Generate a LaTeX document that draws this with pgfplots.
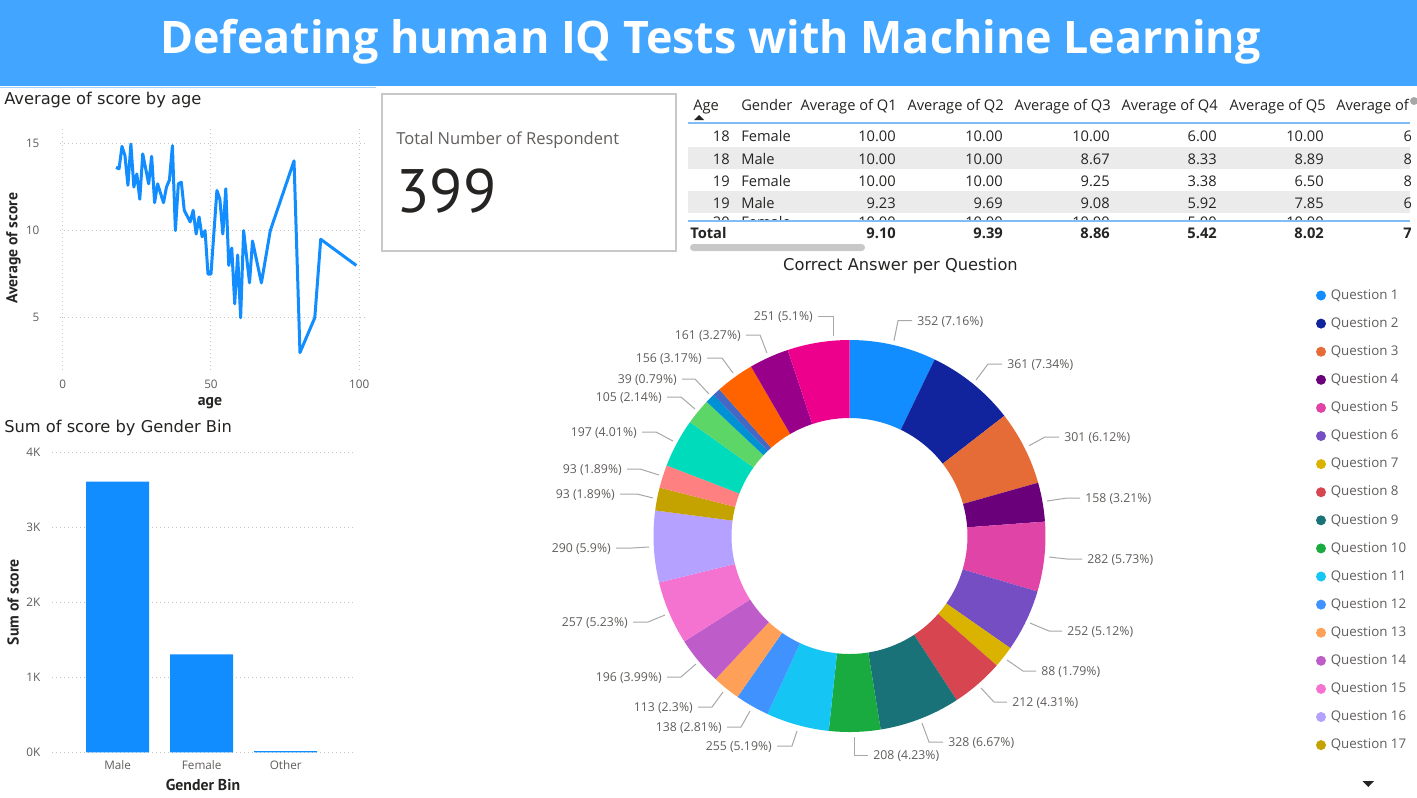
\documentclass[border=0pt]{standalone}
\usepackage{fontspec}
\setmainfont{Open Sans}
\newfontfamily\dinf{DejaVu Sans}
\newfontfamily\ptf{PT Sans}
\usepackage{pgfplots}
\usepackage{pgfplotstable}
\pgfplotsset{compat=1.18}

\definecolor{banner}{HTML}{42A5FF}
\definecolor{pbblue}{HTML}{118DFF}
\definecolor{txtdark}{HTML}{252423}
\definecolor{txtgray}{HTML}{605E5C}
\definecolor{gridgray}{HTML}{C8C6C4}
\definecolor{leader}{HTML}{A8A8A8}
\definecolor{rowgray}{HTML}{EBEBEB}
\definecolor{tblue}{HTML}{80BDF5}
\definecolor{cardgray}{HTML}{C8C8C8}
\definecolor{q1}{HTML}{118DFF}
\definecolor{q2}{HTML}{12239E}
\definecolor{q3}{HTML}{E66C37}
\definecolor{q4}{HTML}{6B007B}
\definecolor{q5}{HTML}{E044A7}
\definecolor{q6}{HTML}{744EC2}
\definecolor{q7}{HTML}{D9B300}
\definecolor{q8}{HTML}{D64550}
\definecolor{q9}{HTML}{197278}
\definecolor{q10}{HTML}{1AAB40}
\definecolor{q11}{HTML}{15C6F4}
\definecolor{q12}{HTML}{4092FF}
\definecolor{q13}{HTML}{FFA058}
\definecolor{q14}{HTML}{BE5DC9}
\definecolor{q15}{HTML}{F472D0}
\definecolor{q16}{HTML}{B5A1FF}
\definecolor{q17}{HTML}{C4A200}
\definecolor{q18}{HTML}{FF8080}
\definecolor{q19}{HTML}{00DBBC}
\definecolor{q20}{HTML}{5BD667}
\definecolor{q21}{HTML}{0091D5}
\definecolor{q22}{HTML}{4668C5}
\definecolor{q23}{HTML}{FF6300}
\definecolor{q24}{HTML}{99008A}
\definecolor{q25}{HTML}{EC008C}

% Average of score by age
\pgfplotstableread{
age score
18 13.63
19 13.54
20 14.83
21 14.30
22 12.60
23 14.96
24 12.50
25 13.25
26 11.80
27 14.40
29 12.68
30 14.26
31 11.60
32 12.68
34 11.60
35 12.50
36 12.90
37 14.87
38 10.00
39 12.68
40 12.78
41 11.16
43 10.50
44 11.16
45 9.80
46 10.78
47 9.64
48 10.00
49 7.50
50 7.50
52 12.30
53 11.80
54 9.80
55 12.40
56 8.00
57 9.00
58 5.80
59 8.60
60 5.00
61 10.00
63 7.00
64 9.40
67 7.00
70 10.00
78 14.00
80 3.00
85 5.00
87 9.50
99 8.00
}\agedata

% Correct answers per question (donut), with label leader positions in px
\pgfplotstableread{
q val pct lab sx sy ex ey tx
1 352 7.16 1 894 340.7 898 320.7 912
2 361 7.34 1 976 380 988 364 1002
3 301 6.12 1 1029 445.7 1045 437 1059
4 158 3.21 1 1047 501 1067 498 1080
5 282 5.73 1 1049 557 1067 559 1082
6 252 5.12 1 1030 623 1049 631 1062
7 88 1.79 1 1007 660 1023 671 1036
8 212 4.31 1 981 688 994 702 1007
9 328 6.67 1 922 723 929 742 943
10 208 4.23 1 854 737 854 755 868
11 255 5.19 1 797 731 792 746 777
12 138 2.81 1 750 711 741 727 727
13 113 2.3 1 723 692 712 707 698
14 196 3.99 1 696 664 681 677 667
15 257 5.23 1 665 615 648 622 633
16 290 5.9 1 649 547 632 548 616
17 93 1.89 1 653 498 637 494 620
18 93 1.89 1 659 475 640 469 627
19 197 4.01 1 673 441 656 432 642
20 105 2.14 1 695 409 681 397 667
21 39 0.79 1 709 394 695 379 682
22 32 0.65 0 0 0 0 0 0
23 156 3.17 1 733 373 722 358 707
24 161 3.27 1 767 353 760 335 746
25 251 5.1 1 833 336 833 316 818
}\donut

\begin{document}
\begin{tikzpicture}[x=0.75pt,y=-0.75pt]
\useasboundingbox (0,0) rectangle (1417,797);
\fill[white] (0,0) rectangle (1417,797);

% ---------- banner ----------
\fill[banner] (0,0) rectangle (1417,86);
\draw[tblue!70!white, line width=1.1pt] (0,87.5) -- (376,87.5);
\node[anchor=base, inner sep=0, text=white, font=\bfseries\fontsize{33.6}{40}\selectfont] at (710.5,53.3) {Defeating human IQ Tests with Machine Learning};

% ---------- titles ----------
\node[anchor=base west, inner sep=0, text=txtdark, font=\dinf\fontsize{12.2}{14}\selectfont] at (4,104.7) {Average of score by age};
\node[anchor=base west, inner sep=0, text=txtdark, font=\dinf\fontsize{12.2}{14}\selectfont] at (4,432.5) {Sum of score by Gender Bin};
\node[anchor=base, inner sep=0, text=txtdark, font=\dinf\fontsize{12.2}{14}\selectfont] at (900.5,270.5) {Correct Answer per Question};

% ---------- line chart ----------
\begin{axis}[
  at={(44.775pt,-277.5pt)}, anchor=south west,
  scale only axis, width=230.25pt, height=183pt,
  xmin=-1, xmax=102.5, ymin=2, ymax=16,
  xtick={0,50,100}, ytick={5,10,15},
  axis line style={draw=none}, tick style={draw=none},
  grid=major,
  major grid style={gridgray, line width=0.75pt, dash pattern=on 0.75pt off 2.25pt},
  /pgf/number format/assume math mode=true,
  tick label style={font=\fontsize{8.8}{10}\selectfont, text=txtgray, inner sep=0pt},
  yticklabel style={anchor=east, xshift=-15pt},
  xticklabel style={anchor=base, yshift=-13.5pt},
  xlabel={age}, ylabel={Average of score},
  xlabel style={at={(axis description cs:0.4896,-0.1352)}, anchor=center, inner sep=0pt,
    font=\ptf\bfseries\fontsize{11.8}{13}\selectfont, text=txtdark},
  ylabel style={at={(axis description cs:-0.1505,0.5)}, anchor=center, inner sep=0pt,
    font=\ptf\bfseries\fontsize{11.8}{13}\selectfont, text=txtdark},
  clip=false,
]
\addplot[pbblue, line width=2.25pt, line join=round] table[x=age, y=score] {\agedata};
\end{axis}

% ---------- bar chart ----------
\begin{axis}[
  at={(39pt,-564.225pt)}, anchor=south west,
  scale only axis, width=226.5pt, height=225pt,
  xmin=-0.782, xmax=2.813, ymin=0, ymax=4000,
  ybar, bar width=47.25pt,
  xtick={0,1,2}, xticklabels={Male,Female,Other},
  ytick={0,1000,2000,3000,4000}, yticklabels={0K,1K,2K,3K,4K},
  axis line style={draw=none}, tick style={draw=none},
  ymajorgrids,
  major grid style={gridgray, line width=0.75pt, dash pattern=on 0.75pt off 2.25pt},
  /pgf/number format/assume math mode=true,
  tick label style={font=\fontsize{8.8}{10}\selectfont, text=txtgray, inner sep=0pt},
  yticklabel style={anchor=east, xshift=-8.5pt},
  xticklabel style={anchor=base, yshift=-8.8pt},
  xlabel={Gender Bin}, ylabel={Sum of score},
  xlabel style={at={(axis description cs:0.5,-0.1075)}, anchor=center, inner sep=0pt,
    font=\ptf\bfseries\fontsize{11.8}{13}\selectfont, text=txtdark},
  ylabel style={at={(axis description cs:-0.129,0.5)}, anchor=center, inner sep=0pt,
    font=\ptf\bfseries\fontsize{11.8}{13}\selectfont, text=txtdark},
  clip=false,
]
\addplot[fill=pbblue, draw=none] coordinates {(0,3610) (1,1307) (2,17)};
\end{axis}

% ---------- card ----------
\draw[cardgray, line width=1.125pt] (382,94) rectangle (676,251);
\node[anchor=base west, inner sep=0, text=txtgray, font=\fontsize{12.4}{14}\selectfont] at (396,144.3) {Total Number of Respondent};
\node[anchor=base west, inner sep=0, text=txtdark, font=\ptf\fontsize{46}{50}\selectfont] at (396,212) {399};

% ---------- table ----------
\fill[rowgray] (688,147) rectangle (1410,169);
\fill[rowgray] (688,191) rectangle (1410,213);
\begin{scope}
\clip (686,90) rectangle (1410,241);
\begin{scope}[every node/.style={inner sep=0pt, text=txtdark, font=\fontsize{11}{13}\selectfont}]
\node[anchor=base west] at (693,110) {Age};
\node[anchor=base west] at (741,110) {Gender};
\node[anchor=base east] at (897,110) {Average of Q1};
\node[anchor=base east] at (1004,110) {Average of Q2};
\node[anchor=base east] at (1111,110) {Average of Q3};
\node[anchor=base east] at (1218,110) {Average of Q4};
\node[anchor=base east] at (1326,110) {Average of Q5};
\node[anchor=base west] at (1336,110) {Average of Q6};
\foreach \yy/\ag/\ge/\va/\vb/\vc/\vd/\ve/\vf in {
  141.6/18/Female/10.00/10.00/10.00/6.00/10.00/6.50,
  164/18/Male/10.00/10.00/8.67/8.33/8.89/8.11,
  186/19/Female/10.00/10.00/9.25/3.38/6.50/8.75,
  208.3/19/Male/9.23/9.69/9.08/5.92/7.85/6.92}{
  \node[anchor=base east] at (730,\yy) {\ag};
  \node[anchor=base west] at (741,\yy) {\ge};
  \node[anchor=base east] at (896,\yy) {\va};
  \node[anchor=base east] at (1003,\yy) {\vb};
  \node[anchor=base east] at (1110,\yy) {\vc};
  \node[anchor=base east] at (1217,\yy) {\vd};
  \node[anchor=base east] at (1324,\yy) {\ve};
  \node[anchor=base east] at (1433,\yy) {\vf};
}
\begin{scope}
\clip (686,213) rectangle (1410,220.5);
\node[anchor=base east] at (730,227.5) {20};
\node[anchor=base west] at (741,227.5) {Female};
\node[anchor=base east] at (896,227.5) {10.00};
\node[anchor=base east] at (1003,227.5) {10.00};
\node[anchor=base east] at (1110,227.5) {10.00};
\node[anchor=base east] at (1217,227.5) {5.00};
\node[anchor=base east] at (1324,227.5) {10.00};
\end{scope}
\node[anchor=base west, font=\bfseries\fontsize{11}{13}\selectfont] at (690,238.3) {Total};
\node[anchor=base east, font=\bfseries\fontsize{11}{13}\selectfont] at (896,238.3) {9.10};
\node[anchor=base east, font=\bfseries\fontsize{11}{13}\selectfont] at (1003,238.3) {9.39};
\node[anchor=base east, font=\bfseries\fontsize{11}{13}\selectfont] at (1110,238.3) {8.86};
\node[anchor=base east, font=\bfseries\fontsize{11}{13}\selectfont] at (1217,238.3) {5.42};
\node[anchor=base east, font=\bfseries\fontsize{11}{13}\selectfont] at (1324,238.3) {8.02};
\node[anchor=base east, font=\bfseries\fontsize{11}{13}\selectfont] at (1433,238.3) {7.65};
\end{scope}
\end{scope}
\draw[tblue, line width=1.1pt] (688,123) -- (1410,123);
\draw[tblue, line width=1.1pt] (688,221) -- (1410,221);
\fill[txtdark] (694,120) -- (704,120) -- (699,115) -- cycle;
\fill[cardgray, rounded corners=2.6pt] (690,244) rectangle (865,251);
\fill[gray!70] (1414,101) circle[radius=3pt];

% ---------- donut ----------
\begin{axis}[
  at={(637.125pt,-402pt)}, anchor=center,
  hide axis, x=0.75pt, y=0.75pt, disabledatascaling,
  xmin=-200, xmax=200, ymin=-200, ymax=200, clip=false,
]
\pgfplotsextra{%
  \xdef\cumsum{0}%
  \foreach \i in {0,...,24}{%
    \pgfplotstablegetelem{\i}{val}\of{\donut}\let\v\pgfplotsretval
    \pgfmathsetmacro\aa{90-360*(\cumsum/4918)}%
    \pgfmathsetmacro\ab{90-360*((\cumsum+\v)/4918)}%
    \pgfmathtruncatemacro\n{\i+1}%
    \fill[q\n] (axis cs:{196*cos(\aa)},{196*sin(\aa)}) arc[start angle=\aa, end angle=\ab, radius=147pt]
       -- (axis cs:{118*cos(\ab)},{118*sin(\ab)}) arc[start angle=\ab, end angle=\aa, radius=88.5pt] -- cycle;
    \pgfmathsetmacro\newcum{\cumsum+\v}\xdef\cumsum{\newcum}%
    \pgfplotstablegetelem{\i}{lab}\of{\donut}\let\lab\pgfplotsretval
    \ifnum\lab=1
      \pgfplotstablegetelem{\i}{pct}\of{\donut}\let\p\pgfplotsretval
      \pgfplotstablegetelem{\i}{sx}\of{\donut}\let\sx\pgfplotsretval
      \pgfplotstablegetelem{\i}{sy}\of{\donut}\let\sy\pgfplotsretval
      \pgfplotstablegetelem{\i}{ex}\of{\donut}\let\ex\pgfplotsretval
      \pgfplotstablegetelem{\i}{ey}\of{\donut}\let\ey\pgfplotsretval
      \pgfplotstablegetelem{\i}{tx}\of{\donut}\let\tx\pgfplotsretval
      \draw[leader, line width=0.75pt] (axis cs:{\sx-849.5},{536-\sy}) -- (axis cs:{\ex-849.5},{536-\ey}) -- (axis cs:{\tx-849.5},{536-\ey});
      \pgfmathtruncatemacro\side{\tx>\ex}%
      \ifnum\side=1
        \node[anchor=west, inner sep=0pt, text=txtgray, font=\fontsize{9.2}{11}\selectfont] at (axis cs:{\tx-849.5+5},{536-\ey-1}) {\v\ (\p\%)};
      \else
        \node[anchor=east, inner sep=0pt, text=txtgray, font=\fontsize{9.2}{11}\selectfont] at (axis cs:{\tx-849.5-5},{536-\ey-1}) {\v\ (\p\%)};
      \fi
    \fi
  }%
}
\end{axis}

% ---------- legend ----------
\foreach \k in {1,...,17}{
  \pgfmathsetmacro\ly{295.5+28.1*(\k-1)}
  \fill[q\k] (1321,\ly) circle[radius=3.75pt];
  \node[anchor=west, inner sep=0pt, text=txtgray, font=\fontsize{10}{12}\selectfont] at (1330.5,\ly) {Question \k};
}
\fill[txtdark] (1362.5,781) -- (1374,781) -- (1368.25,787) -- cycle;
\end{tikzpicture}
\end{document}
